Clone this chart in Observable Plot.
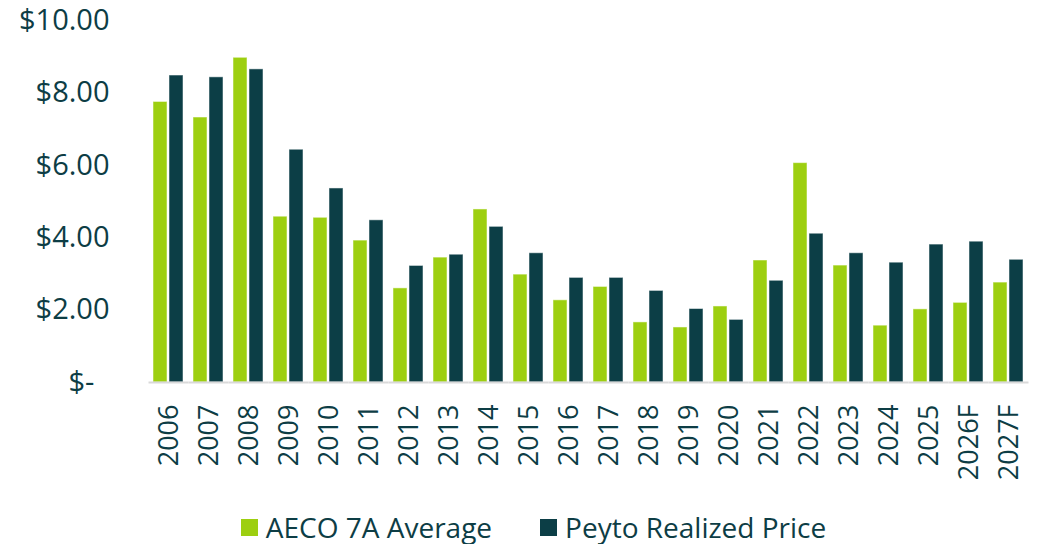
<!DOCTYPE html>
<html><head><meta charset="utf-8">
<script src="https://cdn.jsdelivr.net/npm/d3@7"></script>
<script src="https://cdn.jsdelivr.net/npm/@observablehq/plot@0.6"></script>
<style>
body{margin:0;background:#fff;font-family:"Open Sans",sans-serif;color:#0d3d45}
#legend{display:flex;justify-content:center;align-items:center;height:38px;padding-top:8px;padding-left:26px;font-size:28px;gap:48px}
#legend .item{display:flex;align-items:center;gap:8px}
#legend .sw{width:17px;height:17px;display:inline-block}
</style></head><body><div id="chart"></div><div id="legend"></div>
<script>
const years = ["2006","2007","2008","2009","2010","2011","2012","2013","2014","2015","2016","2017","2018","2019","2020","2021","2022","2023","2024","2025","2026F","2027F"];
const aeco  = [7.75,7.32,8.97,4.58,4.55,3.92,2.60,3.45,4.78,2.98,2.27,2.64,1.66,1.52,2.10,3.37,6.06,3.23,1.57,2.02,2.20,2.76];
const peyto = [8.48,8.43,8.65,6.43,5.36,4.48,3.22,3.53,4.30,3.57,2.89,2.89,2.53,2.03,1.73,2.81,4.11,3.57,3.31,3.81,3.89,3.39];
const seriesNames = ["AECO 7A Average","Peyto Realized Price"];
const colors = ["#9dcf10","#0c3e46"];
const yTicks = [0,2,4,6,8,10];

const data = years.flatMap((y,i)=>[
  {year:y,series:seriesNames[0],value:aeco[i]},
  {year:y,series:seriesNames[1],value:peyto[i]}
]);

const chart = Plot.plot({
  width:1041,height:500,marginLeft:146,marginRight:10,marginTop:20,marginBottom:118,
  style:{fontFamily:"Open Sans", fontSize:"27px", color:"#0d3d45", background:"white"},
  fx:{domain:years,paddingInner:0.22,paddingOuter:0.11,label:null,tickRotate:-90,tickSize:0,tickPadding:22},
  x:{domain:seriesNames,paddingInner:0.1,paddingOuter:0,axis:null},
  y:{domain:[0,10],axis:null},
  color:{domain:seriesNames,range:colors},
  marks:[
    Plot.axisY({ticks:yTicks,tickFormat:d=>d===0?"$-\u00a0\u00a0":"$"+d.toFixed(2),tickSize:0,tickPadding:44,label:null,fontSize:29}),
    Plot.barY(data,{fx:"year",x:"series",y:"value",fill:"series",stroke:"white",strokeOpacity:0.5,strokeWidth:1}),
    Plot.ruleY([0],{stroke:"#d9d9d9",strokeWidth:2,insetLeft:-4.5,insetRight:-4.5})
  ]
});
document.getElementById("chart").appendChild(chart);

const legend = document.getElementById("legend");
seriesNames.forEach((s,i)=>{
  const it=document.createElement("span");it.className="item";
  const sw=document.createElement("span");sw.className="sw";sw.style.background=colors[i];
  const t=document.createElement("span");t.textContent=s;
  it.appendChild(sw);it.appendChild(t);legend.appendChild(it);
});
</script></body></html>
